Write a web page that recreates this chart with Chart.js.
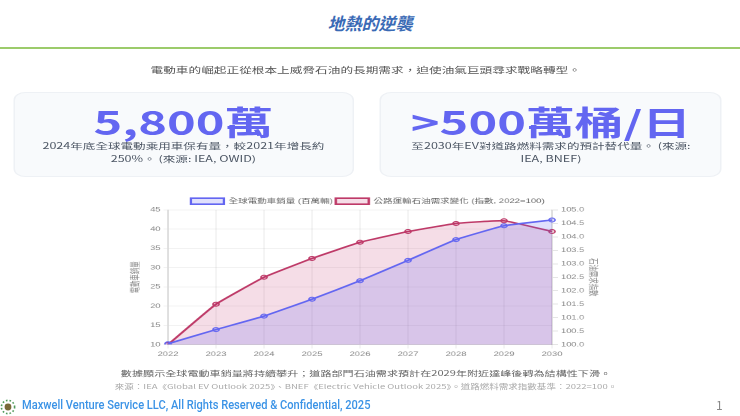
<!DOCTYPE html>
<html lang="zh-Hant">
<head>
<meta charset="utf-8">
<title>地熱的逆襲</title>
<script src="https://cdn.jsdelivr.net/npm/chart.js@4"></script>
<style>
  * { box-sizing: border-box; margin: 0; padding: 0; }
  html, body { width: 740px; height: 416px; overflow: hidden; background: #fff; font-family: "Noto Sans CJK TC", "Noto Sans", sans-serif; }
  .abs { position: absolute; }
  #title { left: 0; width: 740px; top: 12px; text-align: center; font-size: 17px; line-height: 22px; font-weight: 700; font-style: italic; color: #3a6ab5; }
  #rule { left: 0; width: 740px; top: 46.5px; height: 2.7px; background: #9ccb6b; }
  /* the slide body is wider than tall in the original, so it is stretched as one block */
  #stage { left: 0; top: 0; width: 493.33px; height: 416px; transform: scaleX(1.5); transform-origin: 0 0; }
  #lead { left: 0; width: 487.6px; top: 60px; text-align: center; font-size: 8.45px; line-height: 18px; color: #555; }
  .card { top: 92px; height: 85px; background: #f8fafc; border: 1px solid #eef1f5; border-radius: 8px; text-align: center; }
  .card b { display: block; font-size: 32.5px; line-height: 34px; margin-top: 11px; font-weight: 700; color: #6366f1; }
  .card p { font-size: 8.4px; line-height: 12.5px; color: #4b5563; margin-top: 1px; }
  #chartBox { left: 80px; top: 195px; width: 328px; height: 165px; }
  #takeaway { left: 0; width: 488px; top: 364px; text-align: center; font-size: 7.4px; line-height: 18px; color: #666; }
  #source { left: 0; width: 488px; top: 380px; text-align: center; font-size: 6.35px; line-height: 14px; color: #aaa; }
  #foot { left: 22px; top: 397px; font-family: Roboto, sans-serif; font-size: 12px; line-height: 16px; font-weight: 500; color: #3b93e6; transform: scaleX(0.925); transform-origin: 0 0; white-space: nowrap; }
  #page { left: 716px; top: 396px; font-size: 12px; line-height: 18px; color: #888; }
  #logo { left: 0; top: 399px; }
</style>
</head>
<body>
<div class="abs" id="title">地熱的逆襲</div>
<div class="abs" id="rule"></div>

<div class="abs" id="stage">
  <div class="abs" id="lead">電動車的崛起正從根本上威脅石油的長期需求，迫使油氣巨頭尋求戰略轉型。</div>

  <div class="abs card" style="left:8.5px;width:227.5px">
    <b>5,800萬</b>
    <p>2024年底全球電動乘用車保有量，較2021年增長約<br>250%。 (來源: IEA, OWID)</p>
  </div>
  <div class="abs card" style="left:253.3px;width:228px">
    <b>&gt;500萬桶/日</b>
    <p>至2030年EV對道路燃料需求的預計替代量。 (來源:<br>IEA, BNEF)</p>
  </div>

  <div class="abs" id="chartBox"><canvas id="chart" width="328" height="165"></canvas></div>

  <div class="abs" id="takeaway">數據顯示全球電動車銷量將持續攀升；道路部門石油需求預計在2029年附近達峰後轉為結構性下滑。</div>
  <div class="abs" id="source">來源：IEA《Global EV Outlook 2025》、BNEF《Electric Vehicle Outlook 2025》。道路燃料需求指數基準：2022=100。</div>
</div>

<svg class="abs" id="logo" width="16" height="16" viewBox="0 0 16 16">
  <circle cx="8" cy="8" r="3.4" fill="#7a6a3a"/>
  <circle cx="8" cy="8" r="6.6" fill="none" stroke="#4f9a5a" stroke-width="1.6" stroke-dasharray="1.6 2"/>
</svg>
<div class="abs" id="foot">Maxwell Venture Service LLC, All Rights Reserved &amp; Confidential, 2025</div>
<div class="abs" id="page">1</div>

<script>
const years = ['2022', '2023', '2024', '2025', '2026', '2027', '2028', '2029', '2030'];
const evSales = [10.2, 13.9, 17.4, 21.8, 26.6, 31.9, 37.3, 40.9, 42.4];
const oilDemand = [100, 101.5, 102.5, 103.2, 103.8, 104.2, 104.5, 104.6, 104.2];

const tickColor = '#888';
const cjkFont = '"Liberation Sans", "Noto Sans CJK TC", sans-serif';
const tickFont = { family: cjkFont, size: 6.2 };
const titleFont = { family: cjkFont, size: 6.4 };

new Chart(document.getElementById('chart'), {
    type: 'line',
    data: {
        labels: years,
        datasets: [
            {
                label: '全球電動車銷量 (百萬輛)',
                data: evSales,
                borderColor: '#6366f1',
                backgroundColor: 'rgba(99,102,241,0.2)',
                borderWidth: 1.6,
                pointRadius: 2,
                pointBorderWidth: 1,
                fill: true,
                tension: 0.1,
                yAxisID: 'y'
            },
            {
                label: '公路運輸石油需求變化 (指數, 2022=100)',
                data: oilDemand,
                borderColor: '#be3a68',
                backgroundColor: 'rgba(190,24,93,0.15)',
                borderWidth: 1.6,
                pointRadius: 2,
                pointBorderWidth: 1,
                fill: true,
                tension: 0.1,
                yAxisID: 'y1'
            }
        ]
    },
    options: {
        responsive: false,
        animation: false,
        devicePixelRatio: 2,
        layout: { padding: { left: 2.3, right: 0, top: 1, bottom: 0 } },
        plugins: {
            legend: {
                maxHeight: 14,
                labels: {
                    color: '#666',
                    boxWidth: 22,
                    boxHeight: 6,
                    padding: 2,
                    font: { family: cjkFont, size: 6.35 }
                }
            }
        },
        scales: {
            x: {
                ticks: { color: tickColor, font: tickFont, maxRotation: 0, padding: 2 },
                grid: { color: 'rgba(0,0,0,0.05)', tickLength: 4 }
            },
            y: {
                position: 'left',
                min: 10,
                max: 45,
                afterFit: (scale) => { scale.width = 29.7; scale.paddingTop = 0; },
                ticks: { stepSize: 5, color: tickColor, font: tickFont, padding: 2 },
                grid: { color: 'rgba(0,0,0,0.05)', tickLength: 3 },
                title: { display: true, text: '電動車銷量', color: tickColor, font: titleFont }
            },
            y1: {
                position: 'right',
                min: 100,
                max: 105,
                afterFit: (scale) => { scale.width = 40; scale.paddingTop = 0; },
                ticks: { stepSize: 0.5, autoSkip: false, color: tickColor, font: tickFont, padding: 2, callback: (v) => Number(v).toFixed(1) },
                grid: { drawOnChartArea: false, tickLength: 4 },
                title: { display: true, text: '石油需求指數', color: tickColor, font: titleFont, padding: { top: 9, bottom: 4 } }
            }
        }
    }
});
</script>
</body>
</html>
